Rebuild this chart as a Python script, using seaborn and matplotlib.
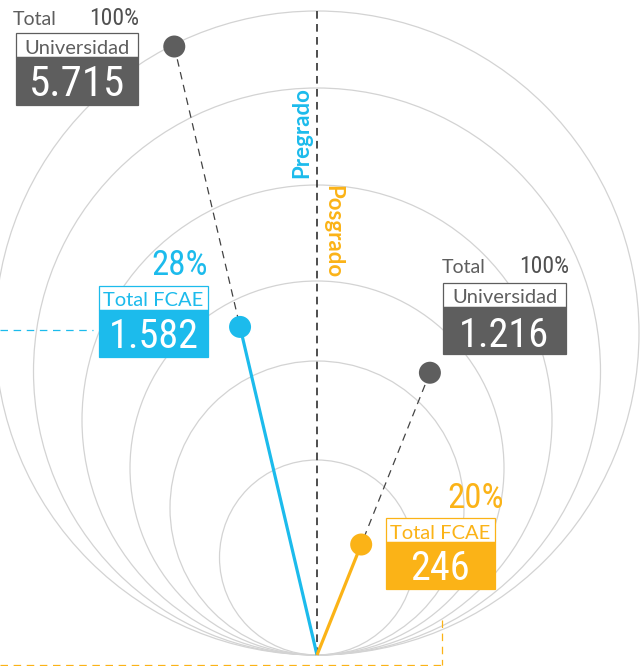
import numpy as np
import pandas as pd
import matplotlib
matplotlib.use("Agg")
import matplotlib.pyplot as plt
from matplotlib.patches import Circle, Rectangle
import seaborn as sns

# ---------------- data ----------------
circle_diameters = [644, 567, 470, 374, 294, 195]   # guide circles, tangent at the base
levels = ["Pregrado", "Posgrado"]
level_angle_deg = [-13.2, 21.8]                      # direction of each level (negative = left)
univ_total = [5715, 1216]                            # Total Universidad
fcae_total = [1582, 246]                             # Total FCAE
fcae_pct = [28, 20]
univ_pct = [100, 100]
univ_radius = [625, 304]                             # radial position of the dots
fcae_radius = [337, 119]

GRAY = "#5e5e5e"
BLUE = "#1cbbec"
ORANGE = "#fbb317"
CIRC = "#d3d3d3"
level_color = [BLUE, ORANGE]

sns.set_theme(style="white")
plt.rcParams['font.family'] = ['Lato', 'DejaVu Sans']
NUMFONT = ['Liberation Sans Narrow', 'Roboto Condensed', 'DejaVu Sans']

fig = plt.figure(figsize=(6.41, 6.66), dpi=100)
ax = fig.add_axes([0, 0, 1, 1])


def P(x, y):
    """layout helper: picture position -> axes data coords"""
    return x - 317, 655 - y


def fmt(v):
    return f"{v:,}".replace(",", ".")


# guide circles
for d in circle_diameters:
    ax.add_patch(Circle((0, d / 2), d / 2, fill=False, ec=CIRC, lw=0.9, zorder=1))

# central dashed divider
ax.plot([0, 0], [0, max(circle_diameters)], ls=(0, (5, 3.5)), color='#1e1e1e', lw=1.1, zorder=2)

th = np.deg2rad(level_angle_deg)
ux = np.array(univ_radius) * np.sin(th)
uy = np.array(univ_radius) * np.cos(th)
fx = np.array(fcae_radius) * np.sin(th)
fy = np.array(fcae_radius) * np.cos(th)

for i in range(2):
    ax.plot([0, fx[i]], [0, fy[i]], color=level_color[i], lw=2.3, solid_capstyle='butt', zorder=3)
    ax.plot([ux[i], fx[i]], [uy[i], fy[i]], color='#444444', lw=0.9, ls=(0, (6, 4.5)), zorder=3)

pts = pd.DataFrame({
    'x': np.concatenate([ux, fx]),
    'y': np.concatenate([uy, fy]),
    'kind': ['univ', 'univ', 'fcae_pre', 'fcae_pos'],
})
sns.scatterplot(data=pts, x='x', y='y', hue='kind',
                palette={'univ': GRAY, 'fcae_pre': BLUE, 'fcae_pos': ORANGE},
                s=251, linewidth=0, legend=False, zorder=5, ax=ax)
ax.set_xlim(-317, 324)
ax.set_ylim(-11, 655)
ax.axis('off')


def box(x0, y0, x1, y1, fc, ec):
    a = P(x0, y1)
    ax.add_patch(Rectangle(a, x1 - x0, y1 - y0, fc=fc, ec=ec, lw=0.9, zorder=6))


def label_block(x0, x1, ytop, ymid, ybot, color, title, value, base_title, base_value, vsize):
    box(x0, ytop, x1, ymid, 'white', color)
    box(x0, ymid, x1, ybot, color, color)
    cx = (x0 + x1) / 2
    ax.text(*P(cx, base_title), title, ha='center', va='baseline', color=color,
            fontsize=14.5, fontweight='normal', zorder=7)
    ax.text(*P(cx, base_value), value, ha='center', va='baseline', color='white',
            fontsize=vsize, family=NUMFONT, zorder=7)


# ---- Pregrado, universidad ----
ax.text(*P(13, 25), "Total", ha='left', va='baseline', color=GRAY, fontsize=14, fontweight='normal')
ax.text(*P(139, 25), f"{univ_pct[0]}%", ha='right', va='baseline', color='#505050',
        fontsize=17, family=NUMFONT)
label_block(16, 138, 33, 57, 105, GRAY, "Universidad", fmt(univ_total[0]), 54.5, 96.5, 31)

# ---- Pregrado, FCAE ----
ax.text(*P(208, 275), f"{fcae_pct[0]}%", ha='right', va='baseline', color=BLUE,
        fontsize=25, family=NUMFONT)
label_block(99, 208, 286, 310, 357, BLUE, "Total FCAE", fmt(fcae_total[0]), 306.5, 348, 29)
ax.plot([P(0, 0)[0], P(93, 0)[0]], [P(0, 330)[1]] * 2, color=BLUE, lw=0.9, ls=(0, (6, 4.5)), zorder=2)

# ---- Posgrado, universidad ----
ax.text(*P(442, 273), "Total", ha='left', va='baseline', color=GRAY, fontsize=14, fontweight='normal')
ax.text(*P(569, 273), f"{univ_pct[1]}%", ha='right', va='baseline', color='#505050',
        fontsize=17, family=NUMFONT)
label_block(443, 566, 283, 307, 354, GRAY, "Universidad", fmt(univ_total[1]), 303, 347, 29)

# ---- Posgrado, FCAE ----
ax.text(*P(504, 508), f"{fcae_pct[1]}%", ha='right', va='baseline', color=ORANGE,
        fontsize=25, family=NUMFONT)
label_block(386, 495, 518, 542, 589, ORANGE, "Total FCAE", fmt(fcae_total[1]), 539, 580, 29)
ax.plot([P(442, 0)[0]] * 2, [P(0, 620)[1], P(0, 665)[1]], color=ORANGE, lw=0.9, ls=(0, (6, 4.5)), zorder=2)
ax.plot([P(0, 0)[0], P(442, 0)[0]], [P(0, 665)[1]] * 2, color=ORANGE, lw=0.9, ls=(0, (6, 4.5)), zorder=2)

# ---- level names along the divider ----
ax.text(*P(302, 133), levels[0], rotation=90, ha='center', va='center', color=BLUE,
        fontsize=16, fontweight='bold', zorder=4)
ax.text(*P(333, 232), levels[1], rotation=-90, ha='center', va='center', color=ORANGE,
        fontsize=16, fontweight='bold', zorder=4)

fig.savefig("out.png", dpi=100)
